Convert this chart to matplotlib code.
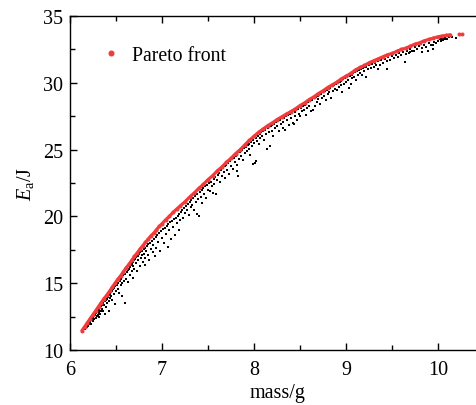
import numpy as np
import matplotlib
matplotlib.use('Agg')
import matplotlib.pyplot as plt
from matplotlib.ticker import MultipleLocator

plt.rcParams['font.family'] = ['Liberation Serif', 'DejaVu Serif']
plt.rcParams['mathtext.fontset'] = 'custom'
plt.rcParams['mathtext.rm'] = 'Liberation Serif'
plt.rcParams['mathtext.it'] = 'Liberation Serif:italic'

# Pareto front (mass in g, absorbed energy in J)
front_mass = [6.13, 6.16, 6.19, 6.22, 6.25, 6.28, 6.31, 6.34, 6.37, 6.40, 6.43, 6.46, 6.49,
              6.52, 6.55, 6.58, 6.61, 6.64, 6.67, 6.70, 6.73, 6.76, 6.79, 6.82, 6.85, 6.88,
              6.91, 6.94, 6.97, 7.00, 7.04, 7.08, 7.12, 7.16, 7.20, 7.25, 7.30, 7.35, 7.40,
              7.45, 7.50, 7.55, 7.60, 7.65, 7.70, 7.75, 7.80, 7.85, 7.90, 7.95, 8.00, 8.05,
              8.10, 8.15, 8.20, 8.25, 8.30, 8.35, 8.40, 8.45, 8.50, 8.55, 8.60, 8.65, 8.70,
              8.75, 8.80, 8.85, 8.90, 8.95, 9.00, 9.05, 9.10, 9.15, 9.20, 9.25, 9.30, 9.35,
              9.40, 9.45, 9.50, 9.55, 9.60, 9.65, 9.70, 9.75, 9.80, 9.85, 9.90, 9.95, 10.00,
              10.04, 10.09, 10.13, 10.23, 10.26]
front_energy = [11.45, 11.75, 12.05, 12.35, 12.65, 12.95, 13.25, 13.55, 13.85, 14.1, 14.4, 14.7, 15.0,
                15.3, 15.55, 15.85, 16.15, 16.4, 16.7, 17.0, 17.25, 17.55, 17.8, 18.05, 18.3, 18.55,
                18.75, 19.0, 19.25, 19.45, 19.75, 20.0, 20.3, 20.55, 20.8, 21.1, 21.45, 21.75, 22.1,
                22.4, 22.75, 23.05, 23.4, 23.7, 24.05, 24.35, 24.7, 25.0, 25.35, 25.7, 26.0, 26.3,
                26.55, 26.8, 27.0, 27.25, 27.45, 27.65, 27.85, 28.05, 28.3, 28.5, 28.75, 28.95, 29.2,
                29.4, 29.65, 29.85, 30.05, 30.3, 30.5, 30.7, 30.95, 31.15, 31.3, 31.5, 31.65, 31.8,
                31.95, 32.1, 32.2, 32.35, 32.5, 32.6, 32.75, 32.9, 33.0, 33.15, 33.25, 33.35, 33.45,
                33.5, 33.55, 33.6, 33.65, 33.65]

# all evaluated designs (mass, energy)
population = [
    (6.16, 11.55), (6.18, 11.7), (6.19, 11.85), (6.2, 11.8), (6.21, 11.95), (6.22, 12.1), (6.23, 11.95),
    (6.24, 12.3), (6.25, 12.2), (6.25, 12.45), (6.26, 12.35), (6.27, 12.6), (6.28, 12.4), (6.28, 12.75),
    (6.29, 12.55), (6.3, 12.85), (6.3, 12.6), (6.31, 12.95), (6.31, 12.45), (6.32, 13.05), (6.32, 12.8),
    (6.33, 13.2), (6.33, 12.7), (6.34, 13.3), (6.34, 12.95), (6.35, 13.4), (6.35, 13.1), (6.36, 13.5),
    (6.36, 12.9),
    (6.37, 13.35), (6.38, 13.65), (6.38, 12.7), (6.39, 13.75), (6.39, 13.2), (6.40, 13.85), (6.40, 13.5),
    (6.41, 13.95), (6.42, 13.7), (6.42, 12.95), (6.43, 14.15), (6.44, 13.9), (6.44, 14.3), (6.45, 14.05),
    (6.46, 14.4), (6.46, 13.75), (6.47, 14.55), (6.48, 14.2), (6.48, 14.65), (6.49, 13.45), (6.49, 14.8),
    (6.5, 14.45), (6.51, 14.9), (6.52, 14.6), (6.52, 15.05), (6.53, 14.3), (6.54, 15.2), (6.55, 14.85),
    (6.55, 15.3), (6.56, 14.05), (6.57, 15.45), (6.57, 15.0), (6.58, 15.6), (6.59, 15.2), (6.6, 13.55),
    (6.6, 15.7), (6.61, 15.35),
    (6.62, 15.85), (6.63, 16.0), (6.63, 15.1), (6.64, 16.1), (6.65, 15.6), (6.65, 16.2), (6.66, 16.35),
    (6.67, 15.9), (6.67, 16.45), (6.68, 16.55), (6.68, 15.4), (6.69, 16.3), (6.7, 16.7), (6.7, 16.1),
    (6.71, 16.8), (6.72, 16.5), (6.72, 16.95), (6.73, 15.9), (6.74, 17.05), (6.74, 16.7), (6.75, 17.15),
    (6.76, 16.3), (6.76, 17.3), (6.77, 16.9), (6.78, 17.4), (6.78, 17.1), (6.79, 16.6), (6.8, 17.55),
    (6.8, 17.2), (6.81, 16.9), (6.82, 17.65), (6.82, 16.35), (6.83, 17.4), (6.84, 17.8), (6.85, 17.1),
    (6.85, 17.9), (6.86, 16.7), (6.87, 18.0), (6.88, 17.55), (6.89, 18.15), (6.9, 17.3), (6.9, 17.85),
    (6.91, 18.3), (6.92, 17.0), (6.93, 18.45), (6.94, 17.6), (6.95, 18.6), (6.96, 18.1), (6.97, 18.75),
    (6.98, 17.4), (6.99, 18.9), (7.0, 18.4), (7.01, 19.05), (7.02, 18.0), (7.03, 19.15), (7.04, 18.7),
    (7.05, 19.3), (7.06, 17.7), (7.07, 19.4), (7.08, 18.95), (7.09, 19.55), (7.1, 18.3), (7.11, 19.65),
    (7.12, 19.2), (7.13, 19.8), (7.14, 18.6), (7.15, 19.9), (7.16, 19.5), (7.17, 20.05), (7.18, 19.0),
    (7.19, 20.15), (7.2, 19.7),
    (7.21, 20.3), (7.22, 20.45), (7.23, 19.9), (7.24, 20.6), (7.25, 20.25), (7.26, 20.75), (7.27, 20.5),
    (7.28, 20.95), (7.29, 20.1), (7.3, 21.05), (7.31, 20.7), (7.32, 21.2), (7.33, 20.85), (7.34, 21.35),
    (7.35, 20.5), (7.36, 21.5), (7.37, 21.1), (7.38, 20.2), (7.38, 21.65), (7.39, 21.3), (7.40, 20.05),
    (7.41, 21.8), (7.42, 21.45), (7.43, 21.95), (7.44, 21.0), (7.45, 22.1), (7.46, 21.7), (7.47, 22.25),
    (7.48, 21.4), (7.49, 22.35), (7.5, 22.0), (7.51, 22.5), (7.52, 21.9), (7.53, 22.6), (7.54, 22.25),
    (7.55, 21.75), (7.56, 22.8), (7.57, 22.45), (7.58, 22.95), (7.59, 21.65), (7.6, 22.7),
    (7.61, 23.1), (7.62, 23.25), (7.63, 22.6), (7.64, 23.45), (7.65, 23.0), (7.66, 23.6), (7.67, 23.3),
    (7.68, 23.75), (7.69, 22.9), (7.7, 23.85), (7.71, 23.5), (7.72, 24.0), (7.73, 23.2), (7.74, 24.15),
    (7.75, 23.8), (7.76, 24.3), (7.77, 23.55), (7.78, 24.4), (7.79, 24.05), (7.8, 24.55), (7.81, 23.85),
    (7.82, 23.4), (7.82, 24.65), (7.83, 23.05), (7.84, 24.3), (7.85, 24.8), (7.86, 24.55), (7.87, 24.95),
    (7.88, 24.2), (7.89, 25.1), (7.9, 24.75), (7.91, 25.2), (7.92, 24.9), (7.93, 25.35), (7.94, 25.05),
    (7.95, 25.45), (7.96, 24.6), (7.97, 25.6), (7.98, 25.3), (7.99, 23.9), (7.99, 25.75), (8.0, 25.5),
    (8.01, 24.0), (8.02, 24.15),
    (8.02, 25.9), (8.03, 25.65), (8.04, 26.05), (8.05, 25.4), (8.06, 26.15), (8.07, 25.85), (8.08, 26.3),
    (8.09, 26.0), (8.1, 26.4), (8.11, 25.7), (8.12, 26.5), (8.13, 26.15), (8.14, 25.05), (8.15, 26.6),
    (8.16, 26.3), (8.17, 25.3), (8.18, 26.75), (8.19, 26.4), (8.2, 26.85), (8.21, 26.05), (8.22, 26.95),
    (8.23, 26.6), (8.24, 27.05), (8.25, 26.75), (8.26, 27.15), (8.27, 26.4), (8.28, 27.25), (8.29, 26.9),
    (8.3, 27.35), (8.31, 27.05), (8.32, 26.6), (8.33, 27.4), (8.34, 26.5), (8.35, 27.5), (8.36, 27.2),
    (8.37, 27.6), (8.38, 26.85), (8.39, 27.7), (8.4, 27.35), (8.41, 27.75), (8.42, 27.0), (8.43, 26.9),
    (8.44, 27.85), (8.45, 27.55), (8.46, 27.95), (8.47, 27.25), (8.48, 28.05), (8.49, 27.7), (8.5, 27.55),
    (8.51, 28.15), (8.52, 27.9), (8.53, 28.25), (8.54, 28.0), (8.55, 28.35), (8.56, 27.6), (8.57, 28.45),
    (8.58, 28.15), (8.59, 28.55), (8.6, 28.3), (8.61, 28.65), (8.62, 27.9), (8.63, 28.75), (8.64, 28.0),
    (8.65, 28.85), (8.66, 28.3), (8.67, 28.95), (8.68, 28.6), (8.69, 29.05), (8.7, 28.8), (8.71, 29.1),
    (8.72, 28.45), (8.73, 29.2), (8.74, 28.9), (8.75, 29.3), (8.76, 29.05), (8.77, 29.4), (8.78, 28.7),
    (8.79, 29.5), (8.8, 29.2), (8.81, 29.55), (8.82, 29.35), (8.83, 29.65), (8.84, 28.9), (8.85, 29.75),
    (8.86, 29.4), (8.87, 29.85), (8.88, 29.55), (8.89, 29.9), (8.9, 29.5), (8.91, 30.0), (8.92, 29.7),
    (8.93, 30.1), (8.94, 29.85), (8.95, 30.15), (8.96, 29.3), (8.97, 30.25), (8.98, 29.95), (8.99, 30.35),
    (9.0, 30.1),
    (9.01, 30.4), (9.02, 30.2), (9.03, 29.65), (9.04, 30.5), (9.05, 29.9), (9.06, 30.6), (9.07, 30.35),
    (9.08, 30.7), (9.09, 30.45), (9.1, 30.8), (9.11, 30.2), (9.12, 30.9), (9.13, 30.6), (9.14, 30.95),
    (9.15, 30.75), (9.16, 31.05), (9.17, 30.55), (9.18, 31.1), (9.19, 30.85), (9.2, 31.15), (9.22, 30.4),
    (9.22, 31.2), (9.24, 31.0), (9.25, 31.3), (9.27, 31.1), (9.28, 31.4), (9.3, 31.2), (9.31, 31.5),
    (9.33, 31.3), (9.35, 31.0), (9.35, 31.6), (9.37, 31.3), (9.38, 31.7), (9.4, 31.5), (9.42, 31.8),
    (9.44, 31.6), (9.45, 31.0), (9.46, 31.9), (9.48, 31.7), (9.5, 32.0),
    (9.52, 31.85), (9.54, 32.1), (9.56, 31.95), (9.58, 32.2), (9.6, 32.05), (9.62, 32.3), (9.64, 31.55),
    (9.65, 32.15), (9.66, 32.4), (9.68, 32.25), (9.7, 32.28), (9.7, 32.5), (9.72, 32.35), (9.74, 32.4),
    (9.75, 32.65), (9.77, 32.5), (9.79, 32.75), (9.82, 32.3), (9.83, 32.6), (9.85, 32.85), (9.87, 32.7),
    (9.89, 32.4), (9.9, 32.95), (9.92, 32.8), (9.94, 32.8), (9.95, 32.5), (9.96, 33.05), (9.98, 32.95),
    (10.0, 33.15), (10.02, 33.25), (10.03, 33.1), (10.04, 33.3), (10.05, 33.2), (10.06, 33.35),
    (10.07, 33.25), (10.08, 33.4), (10.1, 33.3), (10.12, 33.45), (10.15, 33.4), (10.2, 33.35),
]

red = '#f03c3c'

fig = plt.figure(figsize=(4.76, 4.06), dpi=100)
ax = fig.add_axes([0.147, 0.1355, 0.870, 0.8225])

pop = np.array(population)
ax.scatter(pop[:, 0], pop[:, 1], s=4.0, marker='s', c='k', linewidths=0, zorder=2)

fm = np.array(front_mass)
fe = np.array(front_energy)
joined = fm <= 10.15
ax.plot(fm[joined], fe[joined], '-', color=red, lw=2.3, solid_capstyle='round', zorder=3)
ax.plot(fm, fe, 'o', color=red, ms=2.9, mew=0, zorder=4, label='Pareto front')

ax.set_xlim(6, 10.5)
ax.set_ylim(10, 35)
ax.xaxis.set_major_locator(MultipleLocator(1))
ax.xaxis.set_minor_locator(MultipleLocator(0.5))
ax.yaxis.set_major_locator(MultipleLocator(5))
ax.yaxis.set_minor_locator(MultipleLocator(2.5))
ax.tick_params(which='both', direction='in', top=True, right=True, labelsize=14.5, width=1.0)
ax.tick_params(which='major', length=5)
ax.tick_params(axis='x', which='major', pad=7)
ax.tick_params(axis='y', which='major', pad=5)
ax.tick_params(which='minor', length=3.5)
for sp in ax.spines.values():
    sp.set_linewidth(1.0)

ax.set_xlabel('mass/g', fontsize=14.5, labelpad=3)
ax.set_ylabel(r'$E_{\mathrm{a}}$/J', fontsize=14.5, labelpad=5)

ax.legend(loc='upper left', bbox_to_anchor=(0.056, 0.935), frameon=False, fontsize=14.2,
          handlelength=1.0, handletextpad=0.55, markerscale=1.5, borderaxespad=0)

fig.savefig('out.png', dpi=100)
